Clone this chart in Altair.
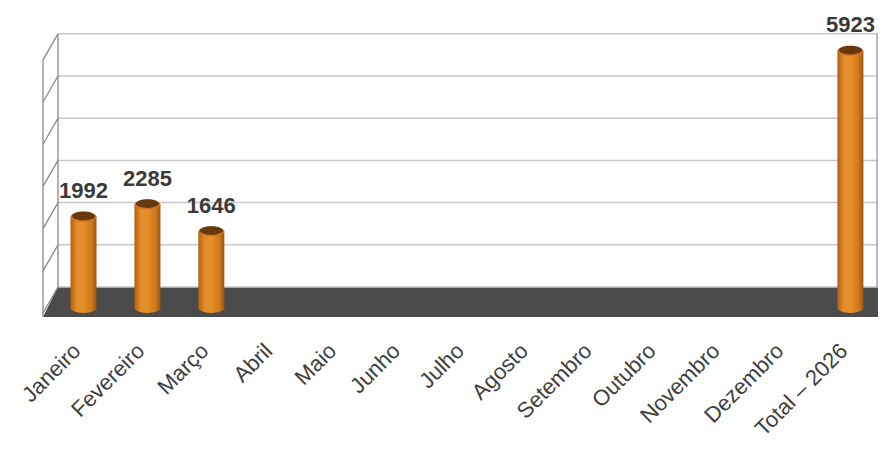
import json
import altair as alt
import pandas as pd

# ---------------- data ----------------
CATEGORIES = ["Janeiro", "Fevereiro", "Março", "Abril", "Maio", "Junho", "Julho",
              "Agosto", "Setembro", "Outubro", "Novembro", "Dezembro", "Total – 2026"]
VALUES = [1992, 2285, 1646, None, None, None, None, None, None, None, None, None, 5923]
GRID_VALUES = [0, 1000, 2000, 3000, 4000, 5000, 6000]

# ---------------- layout ----------------
W, H = 845, 281
X_DOM = [-0.634, 12.432]
Y_DOM = [-379, 6280]
KX = W / (X_DOM[1] - X_DOM[0])
KY = H / (Y_DOM[1] - Y_DOM[0])
DX, DY = 15, -14      # back-wall offset (px)
DIAG = 26             # depth of side wall diagonals (px)
BAR_W = 26
ELL = "M-1,0A1,0.38,0,1,1,1,0A1,0.38,0,1,1,-1,0Z"

bars_df = pd.DataFrame({"x": range(len(CATEGORIES)), "cat": CATEGORIES, "val": VALUES}).dropna()
bars_df["zero"] = 0
grid_df = pd.DataFrame({"y": GRID_VALUES, "x": X_DOM[0], "x2": X_DOM[1]})
top_v = max(GRID_VALUES)
floor_back = -DY / KY
floor_df = pd.DataFrame({
    "x": [X_DOM[0], X_DOM[0] + DX / KX, X_DOM[1]],
    "y": [Y_DOM[0], floor_back, floor_back],
    "y2": [Y_DOM[0]] * 3,
})
frame_df = pd.DataFrame({"x": [X_DOM[0]], "xr": [X_DOM[1]], "y": [top_v], "y2": [0], "ymin": [Y_DOM[0]]})

label_expr = json.dumps(CATEGORIES, ensure_ascii=False) + "[datum.value]"

xs = alt.Scale(domain=X_DOM, nice=False, zero=False)
ys = alt.Scale(domain=Y_DOM, nice=False, zero=False)
xaxis = alt.Axis(values=list(range(len(CATEGORIES))), labelExpr=label_expr, labelAngle=-45,
                 labelAlign="right", labelBaseline="middle", labelFontSize=22,
                 labelFont="Liberation Sans", labelColor="#3e3e3e", labelPadding=30,
                 labelOffset=-7,
                 ticks=False, domain=False, grid=False, title=None, labelFlush=False,
                 labelOverlap=False, labelBound=False)


def X(f):
    return alt.X(f, type="quantitative", scale=xs, axis=xaxis)


def Y(f):
    return alt.Y(f, type="quantitative", scale=ys, axis=None)


grad = alt.LinearGradient(
    gradient="linear", x1=0, x2=1, y1=0, y2=0,
    stops=[alt.GradientStop(color="#b0600f", offset=0),
           alt.GradientStop(color="#e48d2c", offset=0.25),
           alt.GradientStop(color="#e88f2a", offset=0.5),
           alt.GradientStop(color="#d27a1c", offset=0.8),
           alt.GradientStop(color="#9c5510", offset=1)])

base_bars = alt.Chart(bars_df)

floor = alt.Chart(floor_df).mark_area(color="#4b4b4b", opacity=1).encode(
    x=X("x"), y=Y("y"), y2="y2")

grid = alt.Chart(grid_df).mark_rule(color="#c8c8c8", strokeWidth=1.5, xOffset=DX, yOffset=DY).encode(
    x=X("x"), x2="x2", y=Y("y"))

diag = alt.Chart(grid_df).mark_rule(color="#8a8a8a", strokeWidth=1.3, xOffset=DX, yOffset=DY,
                                    y2Offset=DY + DIAG).encode(
    x=X("x"), x2=alt.X2("x"), y=Y("y"), y2="y")

front_v = alt.Chart(frame_df).mark_rule(color="#8a8a8a", strokeWidth=1.3, yOffset=DY + DIAG).encode(
    x=X("x"), y=Y("y"), y2="ymin")

back_l = alt.Chart(frame_df).mark_rule(color="#8a8a8a", strokeWidth=1.3, xOffset=DX, yOffset=DY,
                                       y2Offset=DY).encode(
    x=X("x"), y=Y("y"), y2="y2")

back_r = alt.Chart(frame_df).mark_rule(color="#9a9a9a", strokeWidth=1.3, xOffset=-1, yOffset=DY,
                                       y2Offset=DY).encode(
    x=X("xr"), y=Y("y"), y2="y2")

bottom_ell = base_bars.mark_point(shape=ELL, size=BAR_W ** 2, filled=True, fill=grad, opacity=1,
                                  strokeWidth=0, yOffset=7).encode(x=X("x"), y=Y("zero"))

bars = base_bars.mark_bar(width=BAR_W, fill=grad, y2Offset=7).encode(
    x=X("x"), y=Y("val"), y2="zero")

top_rim = base_bars.mark_point(shape=ELL, size=BAR_W ** 2, filled=True, fill="#c9772a", opacity=1,
                               strokeWidth=0).encode(x=X("x"), y=Y("val"))
top_ell = base_bars.mark_point(shape=ELL, size=(BAR_W - 3) ** 2, filled=True, fill="#6a380c", opacity=1,
                               strokeWidth=0, yOffset=-1).encode(x=X("x"), y=Y("val"))

labels = base_bars.mark_text(font="Liberation Sans", fontSize=22, fontWeight="bold", color="#3a3a3a",
                             baseline="bottom", dy=-14).encode(
    x=X("x"), y=Y("val"), text=alt.Text("val:Q", format="d"))

chart = alt.layer(floor, grid, diag, front_v, back_l, back_r, bottom_ell, bars, top_rim, top_ell, labels).properties(
    width=W, height=H,
    autosize=alt.AutoSizeParams(type="none"),
    padding={"left": 30, "top": 28, "right": 0, "bottom": 130},
    background="white",
).configure_view(strokeWidth=0)

chart.save("out.html", embed_options={"renderer": "svg", "actions": False})
